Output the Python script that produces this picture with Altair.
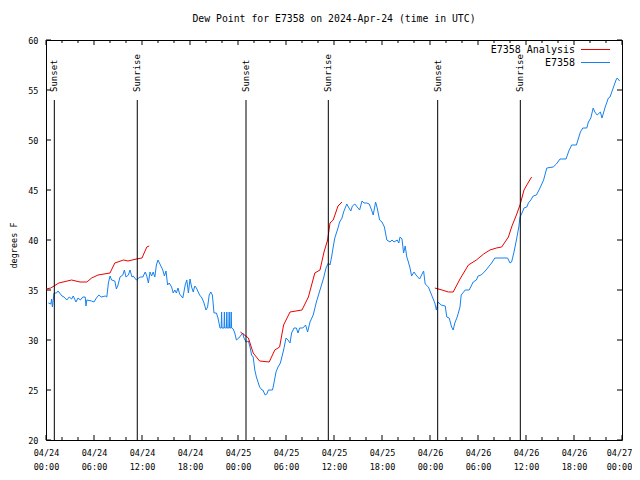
import json
import altair as alt
import pandas as pd

# ---------------- data (hours since 2024-04-24 00:00 UTC, dew point in F) ----------------
obs_hours = [0.3, 0.6, 0.7, 0.8, 1.0, 1.3, 1.5, 2.0, 2.25, 2.6, 2.9, 3.2, 3.4, 3.75, 4.0, 4.3, 4.6, 4.9,
             5.0, 5.1, 5.7, 6.0, 6.3, 6.6, 6.9, 7.4, 7.6, 7.8, 8.0, 8.2, 8.6, 8.8, 9.0, 9.25, 9.6, 9.8,
             10.0, 10.3, 10.5, 10.75, 10.9, 11.3, 11.75, 12.1, 12.4, 12.6, 12.8, 13.0, 13.2, 13.4, 13.6,
             13.8, 14.0, 14.3, 14.6, 14.8, 15.0, 15.2, 15.4, 15.7, 15.9, 16.1, 16.3, 16.5, 16.7, 17.1,
             17.4, 17.6, 17.8, 18.0, 18.2, 18.4, 18.6, 18.8, 19.2, 19.5, 19.75, 20.0, 20.2, 20.4, 20.6,
             20.8, 21.0, 21.3, 21.5, 21.75, 21.9, 21.95, 22.0, 22.25, 22.3, 22.35, 22.55, 22.6, 22.65,
             22.85, 22.9, 22.95, 23.1, 23.15, 23.2, 23.4, 23.6, 23.8, 24.1, 24.6, 24.7, 25.0, 25.3, 25.5,
             25.7, 25.9, 26.1, 26.3, 26.7, 27.0, 27.1, 27.4, 27.6, 27.8, 28.3, 28.4, 28.75, 29.0, 29.3,
             29.7, 30.0, 30.25, 30.5, 30.7, 31.0, 31.3, 31.5, 31.7, 32.1, 32.45, 32.7, 33.0, 33.4, 33.8,
             34.25, 34.7, 35.0, 35.3, 35.5, 35.7, 35.9, 36.1, 36.3, 36.5, 36.7, 37.0, 37.2, 37.6, 37.8,
             38.1, 38.3, 38.6, 38.9, 39.2, 39.5, 39.75, 40.1, 40.4, 40.7, 40.9, 41.2, 41.4, 41.7, 42.0,
             42.3, 42.6, 43.0, 43.25, 43.5, 43.9, 44.1, 44.25, 44.5, 44.7, 44.9, 45.1, 45.3, 45.5, 45.7,
             46.0, 46.25, 46.7, 47.2, 47.4, 47.8, 48.2, 48.6, 48.8, 49.0, 49.4, 49.9, 50.1, 50.4, 50.7,
             50.9, 51.1, 51.4, 51.75, 51.9, 52.4, 52.9, 53.4, 53.8, 54.0, 54.4, 54.9, 55.3, 55.7, 56.1,
             56.75, 57.7, 58.0, 58.2, 58.5, 58.8, 59.1, 59.25, 59.5, 59.75, 60.1, 60.3, 60.6, 60.9, 61.3,
             61.75, 62.2, 62.6, 63.4, 63.8, 64.25, 65.0, 65.4, 65.6, 65.7, 66.3, 66.8, 67.1, 67.6, 67.8,
             68.1, 68.4, 68.6, 68.9, 69.3, 69.5, 69.9, 70.3, 70.5, 70.9, 71.25, 71.4, 71.7]
obs_values = [33.7, 33.6, 34.1, 33.3, 34.7, 34.7, 34.9, 34.4, 34.3, 34.0, 34.3, 34.1, 34.4, 33.8, 34.2, 34.0, 34.3, 34.3,
              33.4, 34.0, 33.9, 33.8, 34.2, 34.5, 34.3, 34.4, 34.3, 35.7, 36.4, 36.0, 35.9, 35.1, 35.5, 36.3, 36.5, 37.0,
              36.3, 36.5, 37.0, 36.3, 36.4, 36.0, 36.3, 36.3, 36.8, 36.4, 35.7, 36.8, 36.4, 36.8, 36.3,
              37.5, 38.0, 37.5, 37.0, 36.4, 36.9, 35.5, 35.7, 35.3, 34.7, 35.0, 34.7, 35.2, 34.6, 34.2,
              35.5, 36.0, 34.7, 36.1, 35.3, 34.8, 35.4, 35.2, 34.5, 34.2, 33.7, 33.0, 33.3, 34.5, 34.8,
              34.5, 32.7, 32.7, 32.2, 31.2, 31.2, 32.8, 31.2, 31.2, 32.8, 31.2, 31.2, 32.8, 31.2,
              31.2, 32.8, 31.2, 31.2, 32.8, 31.2, 31.1, 30.7, 30.0, 30.2, 30.7, 30.3, 29.8, 29.9, 29.3,
              28.5, 28.3, 27.0, 26.3, 25.3, 25.0, 25.0, 24.5, 24.6, 25.0, 25.0, 25.3, 26.8, 27.3, 27.7,
              29.0, 30.2, 30.0, 29.7, 30.7, 31.2, 31.2, 30.7, 31.2, 31.2, 31.5, 30.8, 31.8, 32.5, 33.8,
              35.0, 36.2, 37.2, 37.7, 37.5, 38.3, 39.3, 40.2, 40.7, 41.2, 41.8, 42.2, 42.8, 43.6, 43.3,
              42.9, 43.4, 43.6, 43.3, 43.0, 43.9, 43.7, 43.7, 43.6, 43.0, 42.5, 43.8, 43.2, 42.0, 41.8,
              41.3, 40.0, 39.8, 40.0, 39.8, 40.0, 39.7, 40.3, 40.1, 38.7, 39.4, 38.3, 37.8, 37.2, 36.4,
              36.8, 36.5, 36.1, 36.9, 35.6, 35.3, 34.5, 33.7, 33.0, 33.8, 33.5, 33.4, 32.3, 32.2, 31.3,
              31.0, 31.7, 32.3, 33.3, 34.5, 35.0, 35.0, 35.8, 36.0, 36.4, 36.5, 36.9, 37.3, 37.7, 38.2,
              38.2, 38.2, 37.7, 37.8, 38.8, 40.0, 41.3, 42.3, 42.7, 43.2, 43.3, 43.7, 44.0, 44.4, 44.5,
              45.2, 46.0, 47.2, 47.3, 47.6, 48.1, 48.1, 49.0, 49.3, 49.5, 49.5, 50.8, 51.2, 51.2, 51.8,
              52.2, 53.2, 52.8, 52.5, 52.8, 52.2, 53.3, 54.2, 54.3, 55.2, 56.0, 56.2, 55.9]

ana_hours = [0.0, 0.6, 1.6, 3.2, 4.25, 5.1, 5.7, 6.5, 8.0, 8.6, 9.7, 10.25, 11.3, 12.0, 12.6, 12.9,
             24.3, 25.3, 25.9, 26.7, 27.9, 28.6, 29.2, 29.7, 30.5, 32.0, 32.8, 33.6, 34.25, 34.75, 35.2,
             35.5, 35.9, 36.5, 37.0,
             48.6, 49.5, 50.3, 50.9, 51.75, 52.8, 53.8, 54.7, 55.5, 56.3, 56.96, 57.8, 58.2, 58.8, 59.25,
             59.75, 60.1, 60.7]
ana_values = [35.1, 35.2, 35.7, 36.0, 35.8, 35.8, 36.2, 36.5, 36.7, 37.7, 38.0, 37.9, 38.1, 38.2, 39.3, 39.4,
              30.8, 30.2, 28.7, 27.9, 27.8, 29.0, 29.3, 31.5, 32.8, 33.0, 34.3, 36.7, 37.0, 38.8, 40.0,
              41.7, 42.0, 43.4, 43.8,
              35.2, 35.0, 34.8, 34.8, 36.1, 37.5, 38.0, 38.6, 39.0, 39.2, 39.3, 40.3, 41.3, 42.5, 43.5,
              45.0, 45.5, 46.3]
ana_run = [1] * 16 + [2] * 19 + [3] * 18

sun_hours = [1.04, 11.41, 25.0, 35.29, 48.96, 59.29]
sun_labels = ["Sunset", "Sunrise", "Sunset", "Sunrise", "Sunset", "Sunrise"]

x_major = list(range(0, 73, 6))
x_minor = [h for h in range(0, 73, 2) if h % 6 != 0]
y_ticks = list(range(20, 61, 5))
date_labels = ["04/24", "04/24", "04/24", "04/24", "04/25", "04/25", "04/25", "04/25",
               "04/26", "04/26", "04/26", "04/26", "04/27"]
time_labels = ["00:00", "06:00", "12:00", "18:00"] * 3 + ["00:00"]
series_names = ["E7358 Analysis", "E7358"]
title_text = "Dew Point for E7358 on 2024-Apr-24 (time in UTC)"

RED = "#ee0000"
BLUE = "#1581f0"
MONO = "DejaVu Sans Mono"
W, H = 576, 400

obs = pd.DataFrame({"h": obs_hours, "v": obs_values})
ana = pd.DataFrame({"h": ana_hours, "v": ana_values, "run": ana_run})
sun = pd.DataFrame({"h": sun_hours, "label": sun_labels})
xmaj = pd.DataFrame({"h": x_major})
xmin = pd.DataFrame({"h": x_minor})
yt = pd.DataFrame({"v": y_ticks})
one = pd.DataFrame({"k": [0]})

label_expr = json.dumps([[d, t] for d, t in zip(date_labels, time_labels)]) + "[round(datum.value / 6)]"

xscale = alt.Scale(domain=[0, 72], nice=False, zero=False)
yscale = alt.Scale(domain=[20, 60], nice=False, zero=False)

x_axis = alt.Axis(values=x_major, labelExpr=label_expr, ticks=False, tickSize=0, domain=False, grid=False,
                  labelFont=MONO, labelFontSize=8.5, labelColor="black", labelPadding=8,
                  labelLineHeight=14, labelBaseline="top", labelFlush=False, labelOverlap=False,
                  labelOffset={"condition": {"test": "datum.value >= 72", "value": -3}, "value": 0},
                  title=None)
y_axis = alt.Axis(values=y_ticks, ticks=False, tickSize=0, domain=False, grid=False,
                  labelFont=MONO, labelFontSize=8.5, labelColor="black", labelPadding=8,
                  title="degrees F", titleFont=MONO, titleFontSize=8.5, titleFontWeight="normal",
                  titleColor="black", titleX=-33, titleY=205, titleAngle=270,
                  titleAlign="center", titleBaseline="middle")

obs_line = alt.Chart(obs).mark_line(color=BLUE, strokeWidth=1).encode(
    x=alt.X("h:Q", scale=xscale, axis=x_axis),
    y=alt.Y("v:Q", scale=yscale, axis=y_axis),
)
ana_line = alt.Chart(ana).mark_line(color=RED, strokeWidth=1).encode(
    x=alt.X("h:Q"), y=alt.Y("v:Q"), detail="run:N"
)
sun_rules = alt.Chart(sun).mark_rule(color="black", strokeWidth=1).encode(
    x=alt.X("h:Q"), y=alt.datum(54.0), y2=alt.datum(20)
)
sun_text = alt.Chart(sun).mark_text(angle=270, align="left", baseline="middle", font=MONO,
                                    fontSize=9, color="black", dx=1).encode(
    x=alt.X("h:Q"), y=alt.datum(54.7), text="label:N"
)

def xtick(df, y0, y1):
    return alt.Chart(df).mark_rule(color="black", strokeWidth=1).encode(
        x=alt.X("h:Q"), y=alt.value(y0), y2=alt.value(y1))

def ytick(x0, x1):
    return alt.Chart(yt).mark_rule(color="black", strokeWidth=1).encode(
        y=alt.Y("v:Q"), x=alt.value(x0), x2=alt.value(x1))

ticks = [xtick(xmaj, H, H - 5), xtick(xmaj, 0, 5), xtick(xmin, H, H - 3), xtick(xmin, 0, 3),
         ytick(0, 5), ytick(W, W - 5)]

def leg_text(name, y):
    return alt.Chart(one).mark_text(align="right", baseline="middle", font=MONO, fontSize=10,
                                    color="black").encode(x=alt.value(529), y=alt.value(y),
                                                           text=alt.value(name))

def leg_line(color, y):
    return alt.Chart(one).mark_rule(color=color, strokeWidth=1).encode(
        x=alt.value(535), x2=alt.value(564), y=alt.value(y))

legend = [leg_text(series_names[0], 9.5), leg_text(series_names[1], 22.5),
          leg_line(RED, 9.5), leg_line(BLUE, 22.5)]

chart = alt.layer(
    obs_line, ana_line, sun_rules, sun_text, *ticks, *legend
).properties(
    width=W, height=H,
    title=alt.TitleParams(title_text, font=MONO, fontSize=9.8, fontWeight="normal", color="black",
                          anchor="middle", offset=12),
    autosize=alt.AutoSizeParams(type="none"),
    padding={"left": 38, "top": 32, "right": 10, "bottom": 32},
    background="white",
).configure_view(stroke="black", strokeWidth=1)

chart.save("out.html", embed_options={"renderer": "svg", "actions": False})
